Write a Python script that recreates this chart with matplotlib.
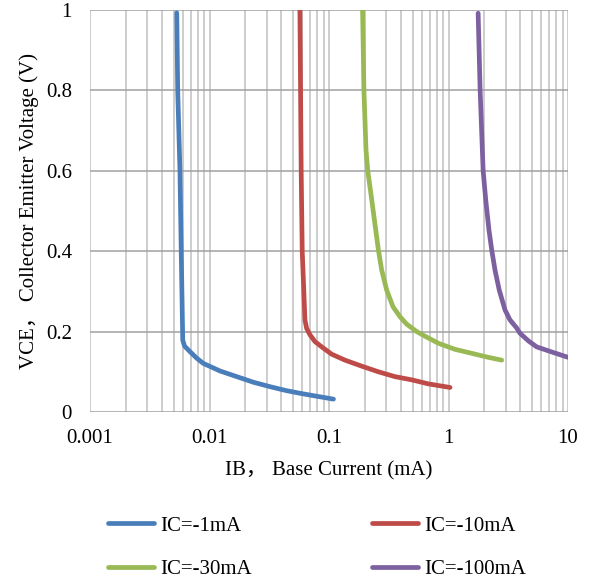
import matplotlib.pyplot as plt
from matplotlib.ticker import LogLocator, FixedLocator, NullFormatter

plt.rcParams['font.family'] = ['Liberation Serif', 'Noto Sans CJK SC']

# IC = -1mA
ib_1 = [0.00532, 0.00542, 0.00566, 0.0058, 0.00597, 0.00618, 0.00687, 0.00781, 0.00887,
        0.01225, 0.0169, 0.0233, 0.0321, 0.0442, 0.0610, 0.109]
vce_1 = [0.993, 0.8, 0.6, 0.4, 0.179, 0.164, 0.150, 0.134, 0.121,
         0.102, 0.088, 0.074, 0.063, 0.053, 0.045, 0.032]
# IC = -10mA
ib_10 = [0.0571, 0.0578, 0.0585, 0.0597, 0.0629, 0.065, 0.0693, 0.0764, 0.0869, 0.105,
         0.136, 0.188, 0.259, 0.356, 0.492, 0.678, 1.03]
vce_10 = [1.0, 0.8, 0.6, 0.4, 0.229, 0.208, 0.192, 0.175, 0.162, 0.144,
          0.129, 0.114, 0.100, 0.088, 0.080, 0.070, 0.061]
# IC = -30mA
ib_30 = [0.191, 0.196, 0.204, 0.211, 0.228, 0.246, 0.259, 0.276, 0.304, 0.343, 0.393, 0.445,
         0.542, 0.65, 0.823, 1.13, 1.56, 2.15, 2.79]
vce_30 = [1.0, 0.8, 0.652, 0.6, 0.527, 0.453, 0.403, 0.353, 0.303, 0.262, 0.237, 0.219,
          0.200, 0.187, 0.171, 0.156, 0.146, 0.136, 0.129]
# IC = -100mA
ib_100 = [1.77, 1.84, 1.92, 1.95, 2.05, 2.18, 2.30, 2.45, 2.66, 2.97, 3.27, 3.72, 3.96,
          4.66, 5.47, 7.54, 10.0]
vce_100 = [0.992, 0.8, 0.652, 0.6, 0.527, 0.453, 0.403, 0.353, 0.303, 0.254, 0.229, 0.209, 0.196,
           0.177, 0.162, 0.148, 0.136]

labels = ['IC=-1mA', 'IC=-10mA', 'IC=-30mA', 'IC=-100mA']
colors = ['#4a7ebb', '#be4b48', '#98b954', '#7d60a0']
x_ticks = [0.001, 0.01, 0.1, 1, 10]
x_ticklabels = ['0.001', '0.01', '0.1', '1', '10']
y_ticks = [0, 0.2, 0.4, 0.6, 0.8, 1]
y_ticklabels = ['0', '0.2', '0.4', '0.6', '0.8', '1']

fig = plt.figure(figsize=(5.91, 5.85), dpi=100)
ax = fig.add_axes([90 / 591, 1 - 412 / 585, 478 / 591, 402 / 585])

lines = []
for xs, ys, lab, c in zip([ib_1, ib_10, ib_30, ib_100], [vce_1, vce_10, vce_30, vce_100], labels, colors):
    ln, = ax.plot(xs, ys, color=c, lw=3.4, label=lab, solid_capstyle='round',
                  solid_joinstyle='round', zorder=3)
    lines.append(ln)

ax.set_xscale('log')
ax.set_xlim(0.001, 10)
ax.set_ylim(0, 1)
ax.xaxis.set_major_locator(FixedLocator(x_ticks))
ax.set_xticklabels(x_ticklabels)
ax.xaxis.set_minor_locator(LogLocator(base=10, subs=range(2, 10), numticks=20))
ax.xaxis.set_minor_formatter(NullFormatter())
ax.set_yticks(y_ticks)
ax.set_yticklabels(y_ticklabels)

ax.grid(True, which='both', axis='x', color='#c0c0c0', lw=1.1, zorder=0)
ax.grid(True, which='major', axis='y', color='#a0a0a0', lw=1.1, zorder=0)
for s in ax.spines.values():
    s.set_visible(False)
ax.tick_params(which='both', length=0, labelsize=15)
ax.tick_params(axis='x', pad=12)
ax.tick_params(axis='y', pad=13)

ax.set_xlabel('IB， Base Current (mA)', fontsize=15, labelpad=10)
ax.set_ylabel('VCE， Collector Emitter Voltage (V)', fontsize=15, labelpad=5)

leg_kw = dict(loc='upper left', frameon=False, fontsize=15, handlelength=2.2,
              handletextpad=0.3, labelspacing=1.15, borderpad=0, borderaxespad=0)
fig.legend([lines[0], lines[2]], [labels[0], labels[2]],
           bbox_to_anchor=(108 / 591, 1 - 516 / 585), **leg_kw)
fig.legend([lines[1], lines[3]], [labels[1], labels[3]],
           bbox_to_anchor=(372 / 591, 1 - 516 / 585), **leg_kw)

fig.savefig('out.png', dpi=100)
